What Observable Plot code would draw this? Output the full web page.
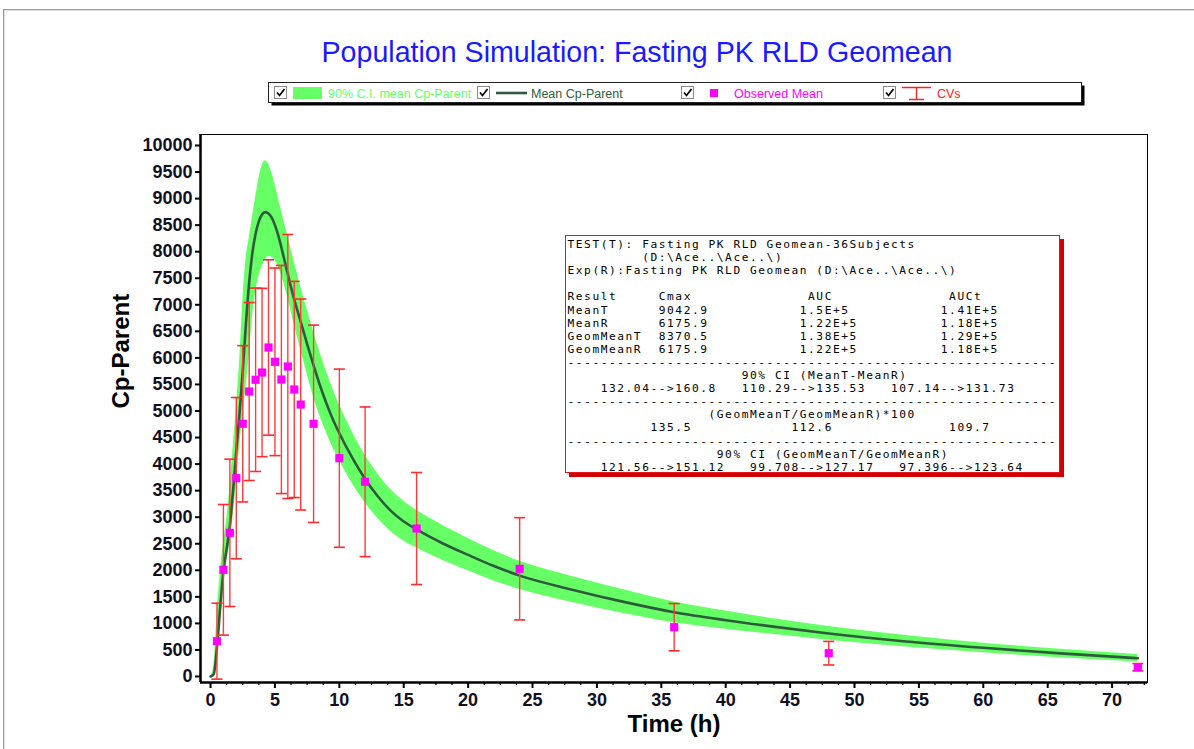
<!DOCTYPE html>
<html>
<head>
<meta charset="utf-8">
<script src="https://cdn.jsdelivr.net/npm/d3@7"></script>
<script src="https://cdn.jsdelivr.net/npm/@observablehq/plot@0.6"></script>
<style>
  html, body { margin: 0; padding: 0; background: #fff; }
  #chart { position: relative; width: 1194px; height: 749px; overflow: hidden; background: #fff; }
  #frame { position: absolute; left: 3px; top: 9px; width: 1300px; height: 900px;
           border-top: 1px solid #9c9c9c; border-left: 1px solid #9c9c9c;
           box-shadow: inset 1px 1px 0 #dedede; }
  #chart svg { position: absolute; left: 0; top: 0; }
</style>
</head>
<body>
<div id="chart"><div id="frame"></div></div>
<script>
// Simulated population mean concentration curve and its 90% confidence band
const curveTimes = [0,0.25,0.5,0.75,1,1.25,1.5,1.75,2,2.25,2.5,2.75,3,3.25,3.5,3.75,4,4.25,4.5,4.75,5,5.25,5.5,5.75,6,
  6.5,7,7.5,8,8.5,9,9.5,10,11,12,13,14,15,16,18,20,22,24,28,32,36,40,44,48,54,60,66,72];
const curveMean = [0,45,560,1300,1990,2400,2850,3500,4250,4950,5750,6650,7420,7980,8340,8570,8700,8745,8720,8640,8500,8310,8080,7830,7570,
  7100,6680,6260,5860,5480,5140,4840,4580,4120,3720,3390,3120,2920,2770,2510,2290,2080,1900,1640,1410,1210,1060,930,810,660,540,435,345];
const curveLower = [0,0,240,1000,1700,2150,2500,3000,3650,4300,4900,5440,6040,6750,7240,7530,7720,7855,7910,7895,7840,7720,7560,7360,7130,
  6630,6150,5700,5260,4900,4590,4310,4070,3640,3270,2970,2730,2550,2420,2190,1990,1800,1640,1400,1190,1010,890,785,685,555,448,352,272];
const curveUpper = [0,200,1150,1950,2500,2950,3550,4300,5050,5900,7050,7850,8250,8650,9020,9370,9620,9715,9650,9490,9270,9020,8770,8530,8290,
  7810,7340,6910,6490,6100,5740,5420,5120,4610,4170,3810,3520,3300,3130,2850,2600,2370,2170,1890,1640,1405,1235,1080,940,770,628,512,416];

// Observed mean concentrations with their spread
const obsTimes = [0.5,1,1.5,2,2.5,3,3.5,4,4.5,5,5.5,6,6.5,7,8,10,12,16,24,36,48,72];
const obsMean  = [665,2009,2706,3735,4759,5367,5588,5725,6196,5926,5593,5838,5405,5122,4759,4111,3667,2787,2028,929,439,175];
const obsSD    = [715,1230,1387,1519,1472,1676,1727,1585,1651,1766,2148,2486,2036,1987,1858,1678,1409,1055,963,445,222,69];

// Axis ticks
const xTicks = d3.range(0, 71, 5);
const xMinorTicks = d3.range(0, 72.6, 1.25);
const yTicks = d3.range(0, 10001, 500);
const xDomain = [-0.78, 72.75];
const yDomain = [-113, 10207];

// Legend entries
const legendLabels = ["90% C.I. mean Cp-Parent", "Mean Cp-Parent", "Observed Mean", "CVs"];
const legendColors = ["#66ff66", "#2e5b3c", "#ff00ff", "#ff2020"];

// Statistics summary box
const statHeader = ["Result", "Cmax", "AUC", "AUCt"];
const statRows = [
  ["MeanT", "9042.9", "1.5E+5", "1.41E+5"],
  ["MeanR", "6175.9", "1.22E+5", "1.18E+5"],
  ["GeomMeanT", "8370.5", "1.38E+5", "1.29E+5"],
  ["GeomMeanR", "6175.9", "1.22E+5", "1.18E+5"]
];
const ciMeanTitle = "90% CI (MeanT-MeanR)";
const ciMean = ["132.04-->160.8", "110.29-->135.53", "107.14-->131.73"];
const ratioTitle = "(GeomMeanT/GeomMeanR)*100";
const ratioValues = ["135.5", "112.6", "109.7"];
const ciGeoTitle = "90% CI (GeomMeanT/GeomMeanR)";
const ciGeo = ["121.56-->151.12", "99.708-->127.17", "97.396-->123.64"];

const curve = curveTimes.map((t, i) => ({t, mean: curveMean[i], lo: curveLower[i], hi: curveUpper[i]}));
const obs = obsTimes.map((t, i) => ({t, mean: obsMean[i], lo: obsMean[i] - obsSD[i], hi: obsMean[i] + obsSD[i]}));

// horizontal cap for the error bars
const cap = {draw(ctx, size) { const w = Math.sqrt(size / Math.PI); ctx.moveTo(-w, 0); ctx.lineTo(w, 0); }};

const tickFont = {fontSize: 18, fontWeight: "bold", fill: "#101020"};

const plot = Plot.plot({
  width: 1194,
  height: 749,
  marginLeft: 200,
  marginRight: 47,
  marginTop: 134,
  marginBottom: 67,
  style: {fontFamily: "'Liberation Sans', Arial, sans-serif", background: "transparent", overflow: "visible"},
  x: {domain: xDomain, label: null},
  y: {domain: yDomain, label: null},
  marks: [
    Plot.areaY(curve, {x: "t", y1: "lo", y2: "hi", fill: "#66ff66", curve: "monotone-x"}),
    Plot.line(curve, {x: "t", y: "mean", stroke: "#2e5b3c", strokeWidth: 2.6, curve: "monotone-x"}),
    Plot.ruleX(obs, {x: "t", y1: "lo", y2: "hi", stroke: "#ff3b3b", strokeWidth: 1.4}),
    Plot.dot(obs, {x: "t", y: "lo", symbol: cap, r: 5.5, stroke: "#ff2a2a", strokeWidth: 1.6, fill: "none"}),
    Plot.dot(obs, {x: "t", y: "hi", symbol: cap, r: 5.5, stroke: "#ff2a2a", strokeWidth: 1.6, fill: "none"}),
    Plot.dot(obs, {x: "t", y: "mean", symbol: "square", r: 4.6, fill: "#ff00ff", stroke: "none"}),
    Plot.frame({stroke: "#000", strokeWidth: 1}),
    Plot.ruleX([xDomain[0]], {stroke: "#000", strokeWidth: 2.5}),
    Plot.ruleY([yDomain[0]], {stroke: "#000", strokeWidth: 2.5}),
    Plot.axisY(yTicks, {anchor: "left", tickSize: 5, tickPadding: 3, strokeWidth: 2, label: null,
      tickFormat: d => String(d), ...tickFont}),
    Plot.axisX(xMinorTicks, {anchor: "bottom", tickSize: 3, strokeWidth: 1.2, label: null, tickFormat: () => ""}),
    Plot.axisX(xTicks, {anchor: "bottom", tickSize: 6, tickPadding: 5, strokeWidth: 2, label: null,
      tickFormat: d => String(d), ...tickFont}),
    Plot.text(["Cp-Parent"], {text: d => d, frameAnchor: "left", rotate: -90, dx: -79,
      fontSize: 24, fontWeight: "bold", fill: "#000"}),
    Plot.text(["Time (h)"], {text: d => d, frameAnchor: "bottom", dy: 49,
      fontSize: 24, fontWeight: "bold", fill: "#000"})
  ]
});
document.getElementById("chart").appendChild(plot);

// Title, legend and summary box drawn over the plot
const ann = d3.select("#chart").append("svg")
  .attr("width", 1194).attr("height", 749)
  .style("pointer-events", "none")
  .attr("font-family", "'Liberation Sans', Arial, sans-serif");

ann.append("text").attr("x", 637).attr("y", 62).attr("text-anchor", "middle")
  .attr("font-size", 28.6).attr("fill", "#1a1aff")
  .text("Population Simulation: Fasting PK RLD Geomean");

// legend
const lg = ann.append("g");
lg.append("rect").attr("x", 271.5).attr("y", 85.5).attr("width", 813).attr("height", 20).attr("fill", "#000");
lg.append("rect").attr("x", 268.5).attr("y", 82.5).attr("width", 813).attr("height", 20)
  .attr("fill", "#fff").attr("stroke", "#222");
const checkX = [274, 477, 681, 883];
checkX.forEach(x => {
  lg.append("rect").attr("x", x + 0.5).attr("y", 86.5).attr("width", 12).attr("height", 12)
    .attr("fill", "#fff").attr("stroke", "#8a8a8a");
  lg.append("path").attr("d", `M${x + 3},${92.5} l2.5,3 l5,-6.5`).attr("fill", "none")
    .attr("stroke", "#000").attr("stroke-width", 1.7);
});
lg.append("rect").attr("x", 293).attr("y", 87).attr("width", 29).attr("height", 12).attr("fill", legendColors[0]);
lg.append("line").attr("x1", 496).attr("x2", 527).attr("y1", 93).attr("y2", 93)
  .attr("stroke", legendColors[1]).attr("stroke-width", 2.6);
lg.append("rect").attr("x", 710).attr("y", 89).attr("width", 8).attr("height", 8).attr("fill", legendColors[2]);
lg.append("path").attr("d", "M902,87.5 H931 M916.5,87.5 V99.5 M909,99.5 H924")
  .attr("stroke", legendColors[3]).attr("stroke-width", 1.3).attr("fill", "none");
const labelX = [328, 531, 734, 937];
legendLabels.forEach((s, i) => {
  lg.append("text").attr("x", labelX[i]).attr("y", 97.5).attr("font-size", 12.5)
    .attr("fill", legendColors[i]).text(s);
});

// summary box
const bx = ann.append("g");
bx.append("rect").attr("x", 569).attr("y", 239).attr("width", 495).attr("height", 238).attr("fill", "#d00000");
bx.append("rect").attr("x", 565.5).attr("y", 235.5).attr("width", 494).attr("height", 237)
  .attr("fill", "#fff").attr("stroke", "#e8141c");
const pad = (s, n) => s + " ".repeat(Math.max(0, n - s.length));
const dashes = "-".repeat(59);
const lines = [
  "TEST(T): Fasting PK RLD Geomean-36Subjects",
  "         (D:\\Ace..\\Ace..\\)",
  "Exp(R):Fasting PK RLD Geomean (D:\\Ace..\\Ace..\\)",
  "",
  pad(statHeader[0], 11) + pad(statHeader[1], 18) + pad(statHeader[2], 17) + statHeader[3],
  ...statRows.map(r => pad(r[0], 11) + pad(r[1], 17) + pad(r[2], 17) + r[3]),
  dashes,
  " ".repeat(21) + ciMeanTitle,
  "    " + ciMean.join("   "),
  dashes,
  " ".repeat(17) + ratioTitle,
  " ".repeat(10) + pad(ratioValues[0], 17) + pad(ratioValues[1], 19) + ratioValues[2],
  dashes,
  " ".repeat(18) + ciGeoTitle,
  "    " + ciGeo.join("   ")
];
lines.forEach((s, i) => {
  if (!s) return;
  bx.append("text").attr("x", 567.5).attr("y", 248 + i * 13.1)
    .attr("font-family", "'DejaVu Sans Mono', monospace").attr("font-size", 11.2)
    .attr("letter-spacing", 1.56)
    .style("white-space", "pre").attr("fill", "#000").text(s);
});
</script>
</body>
</html>
